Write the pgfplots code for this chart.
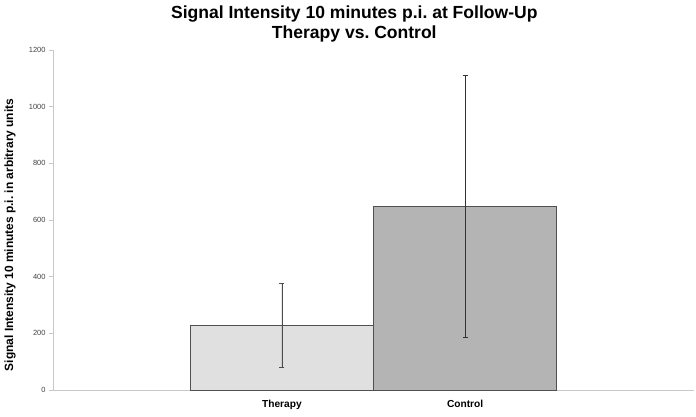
\documentclass[border=0pt]{standalone}
\usepackage{fontspec}
\setmainfont{Liberation Sans}
\usepackage{pgfplots}
\pgfplotsset{compat=1.18}

\definecolor{therapyfill}{HTML}{E0E0E0}
\definecolor{controlfill}{HTML}{B4B4B4}
\definecolor{baredge}{HTML}{505050}
\definecolor{axisgray}{HTML}{C8C8C8}

\begin{document}
\frenchspacing
\begin{tikzpicture}[x=1bp,y=1bp]
\path[use as bounding box] (0,0) rectangle (696,416);
\begin{axis}[
    at={(53bp,26bp)},
    anchor=south west,
    scale only axis,
    width=641bp,
    height=340bp,
    xmin=-1.25, xmax=2.25,
    ymin=0, ymax=1200,
    axis x line*=bottom,
    axis y line*=left,
    axis line style={axisgray, line width=0.8pt, -},
    xtick={0,1},
    xticklabels={\textbf{Therapy},\textbf{Control}},
    xtick style={draw=none},
    x tick label style={font=\fontsize{10.2}{11}\selectfont, yshift=-3bp},
    ytick={0,200,...,1200},
    ytick style={axisgray, line width=0.6pt},
    tick align=outside,
    major tick length=4bp,
    y tick label style={font=\fontsize{7.5}{8}\selectfont, color=black!75},
    /pgf/number format/assume math mode=true,
    /pgf/number format/1000 sep={},
    ylabel={\textbf{Signal Intensity 10 minutes p.i. in arbitrary units}},
    ylabel style={font=\fontsize{12}{13}\selectfont, at={(axis description cs:-0.067,0.456)}, anchor=center},
    title={\textbf{Signal Intensity 10 minutes p.i. at Follow-Up}\\\textbf{Therapy vs. Control}},
    title style={font=\fontsize{17.6}{20.5}\selectfont, align=center, at={(axis description cs:0.47,1)}, anchor=south, yshift=-2bp},
    ybar, bar width=1, bar shift=0pt,
    clip=false,
]
\addplot[fill=therapyfill, draw=baredge, line width=0.6pt,
    error bars/.cd, y dir=both, y explicit,
    error bar style={black!70, line width=0.5pt},
    error mark options={black!70, line width=0.5pt, mark size=2.5bp, rotate=90}]
    coordinates {(0,228) +- (0,148)};
\addplot[fill=controlfill, draw=baredge, line width=0.6pt,
    error bars/.cd, y dir=both, y explicit,
    error bar style={black!80, line width=0.5pt},
    error mark options={black!80, line width=0.5pt, mark size=2.5bp, rotate=90}]
    coordinates {(1,649) +- (0,462)};
\end{axis}
\end{tikzpicture}
\end{document}
